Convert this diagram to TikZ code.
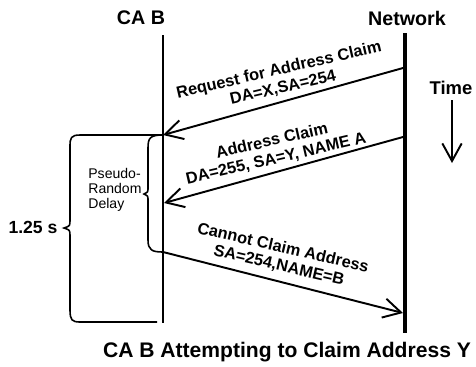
\documentclass[tikz,border=0pt]{standalone}
\usepackage{fontspec}
\setmainfont{Liberation Sans}
\usetikzlibrary{arrows.meta}

\tikzset{
  msg/.style={line width=1.1pt, -{Straight Barb[length=10pt,width=11pt]}},
  lbl/.style={font=\bfseries\fontsize{9.3}{10.3}\selectfont, inner sep=0pt, align=center},
  head/.style={font=\bfseries\fontsize{11.2}{13}\selectfont, inner sep=0pt},
}

\begin{document}
\begin{tikzpicture}[x=0.02cm, y=-0.02cm]
		%%%%% START %%%%%
		\useasboundingbox (0,0) rectangle (476,366);
		
		\node[head] (cab) at (141,18) {CA B};
		\node[head] (net) at (407,18) {Network};
		
		\coordinate (cabtop) at (163,35);
		\coordinate (cabbot) at (163,323);
		\coordinate (nettop) at (405,33);
		\coordinate (netbot) at (405,333);
		\draw[line width=1.1pt] (cabtop) -- (cabbot);
		\draw[line width=2pt] (nettop) -- (netbot);
		
		% request
		\coordinate (reqa) at (403,68);
		\coordinate (reqb) at (163,135);
		\draw[msg] (reqa) -- (reqb);
		\node[lbl, rotate=13] (req) at (281,79) {Request for Address Claim\\DA=X,SA=254};
		
		% address claim from network
		\coordinate (cla) at (403,137);
		\coordinate (clb) at (164,203);
		\draw[msg] (cla) -- (clb);
		\node[lbl, rotate=13] (cl) at (274,150) {Address Claim\\DA=255, SA=Y, NAME A};
		
		% cannot claim
		\coordinate (cna) at (163,252);
		\coordinate (cnb) at (403,313);
		\draw[msg] (cna) -- (cnb);
		\node[lbl, rotate=-13] (cn) at (281,257) {Cannot Claim Address\\SA=254,NAME=B};
		
		% braces
		\draw[line width=0.9pt] (reqb) .. controls (150,135) and (148,138) .. (148,148) -- (148,188)
			.. controls (148,192) .. (144,194) .. controls (148,196) .. (148,200) -- (148,240)
			.. controls (148,250) and (152,252) .. (cna);
		\draw[line width=0.9pt] (reqb) -- (80,135) .. controls (71,135) and (70,138) .. (70,146) -- (70,220)
			.. controls (70,226) .. (64,228) .. controls (70,230) .. (70,236) -- (70,310)
			.. controls (70,320) and (72,322) .. (80,322) -- (157,322);
		
		\node[font=\fontsize{8}{8.5}\selectfont, align=left, anchor=west, inner sep=0pt] (delay) at (88,190) {Pseudo-\\Random\\Delay};
		\node[font=\bfseries\fontsize{10}{12}\selectfont, inner sep=0pt] (total) at (33,227) {1.25 s};
		
		% time
		\node[font=\bfseries\fontsize{10.5}{12}\selectfont, inner sep=0pt] (time) at (451,88) {Time};
		\coordinate (timeb) at (452,163);
		\draw[msg] (452,100) -- (timeb);
		
		\node[font=\bfseries\fontsize{12}{14}\selectfont, inner sep=0pt] (title) at (287,352) {CA B Attempting to Claim Address Y};
		%%%%% END %%%%%
	\end{tikzpicture}
\end{document}
